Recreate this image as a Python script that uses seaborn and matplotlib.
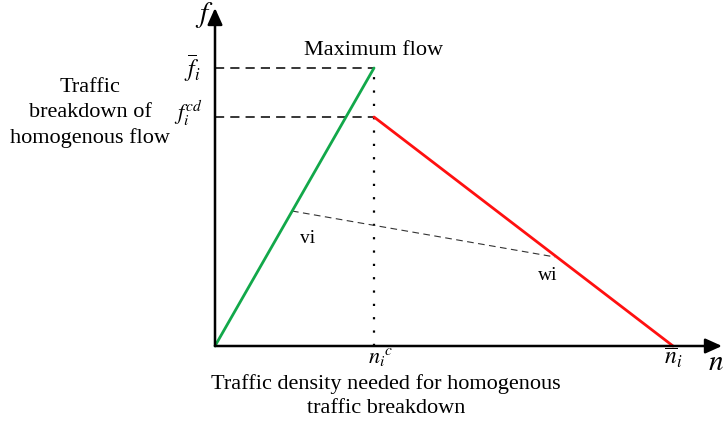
import numpy as np
import seaborn as sns
import matplotlib.pyplot as plt

# diagram values (origin at the axes crossing, units ~ pixels)
n_c = 159        # critical density
n_bar = 458      # jam density
f_bar = 278      # maximum flow
f_cd = 229       # flow after breakdown
vi = (77, 135)   # point on green branch
wi = (340, 89)   # point on red branch

free_n = [0, n_c]
free_f = [0, f_bar]
cong_n = [n_c, n_bar]
cong_f = [f_cd, 0]

sns.set_style("white")
plt.rcParams['font.family'] = ['Liberation Serif', 'DejaVu Serif']
plt.rcParams['mathtext.fontset'] = 'stix'
plt.rcParams['text.color'] = 'black'

fig = plt.figure(figsize=(7.23, 4.23), dpi=100)
ax = fig.add_axes([0, 0, 1, 1])
ax.set_xlim(-215, 508)
ax.set_ylim(-77, 346)
ax.axis('off')

# axes with arrows
ax.annotate('', xy=(507, 0), xytext=(0, 0),
            arrowprops=dict(arrowstyle='-|>,head_length=1.0,head_width=0.45',
                            color='black', lw=1.8, shrinkA=0, shrinkB=0))
ax.annotate('', xy=(0, 338), xytext=(0, 0),
            arrowprops=dict(arrowstyle='-|>,head_length=1.0,head_width=0.45',
                            color='black', lw=1.8, shrinkA=0, shrinkB=0))

# guide lines
ax.plot([0, n_c], [f_bar, f_bar], ls=(0, (6, 4)), color='black', lw=1.1)
ax.plot([0, n_c], [f_cd, f_cd], ls=(0, (6, 4)), color='black', lw=1.1)
ax.plot([n_c, n_c], [0, f_bar], ls=(0, (1, 5)), color='black', lw=1.6)
ax.plot([vi[0], wi[0]], [vi[1], wi[1]], ls=(0, (6, 4)), color='#333333', lw=0.8)

# flow-density branches
sns.lineplot(x=free_n, y=free_f, ax=ax, color='#12a84a', lw=2.0)
sns.lineplot(x=cong_n, y=cong_f, ax=ax, color='#ff1010', lw=2.0)

# labels
fs = 16
ax.text(n_c + 0, f_bar + 18, 'Maximum flow', fontsize=fs, va='center', ha='center')
ax.text(-125, 233, 'Traffic\nbreakdown of\nhomogenous flow', fontsize=fs,
        ha='center', va='center', linespacing=1.42)
ax.text(n_c + 12, -50, 'Traffic density needed for homogenous\ntraffic breakdown',
        fontsize=fs, ha='center', va='center', linespacing=1.3)
ax.text(-14, f_bar, r'$\overline{f}_i$', fontsize=17, ha='right', va='center')
ax.text(-12, f_cd + 4, r'$f_i^{cd}$', fontsize=16, ha='right', va='center')
ax.text(-11, 331, r'$f$', fontsize=21, ha='center', va='center')
ax.text(501, -17, r'$n$', fontsize=21, ha='center', va='center')
ax.text(n_c + 7, -11, r'$n_i{}^c$', fontsize=16, ha='center', va='center')
ax.text(n_bar, -12, r'$\overline{n}_i$', fontsize=17, ha='center', va='center')
ax.text(vi[0] + 16, vi[1] - 27, 'vi', fontsize=14, ha='center', va='center')
ax.text(wi[0] - 7, wi[1] - 18, 'wi', fontsize=14, ha='center', va='center')

fig.savefig('out.png', dpi=100)
